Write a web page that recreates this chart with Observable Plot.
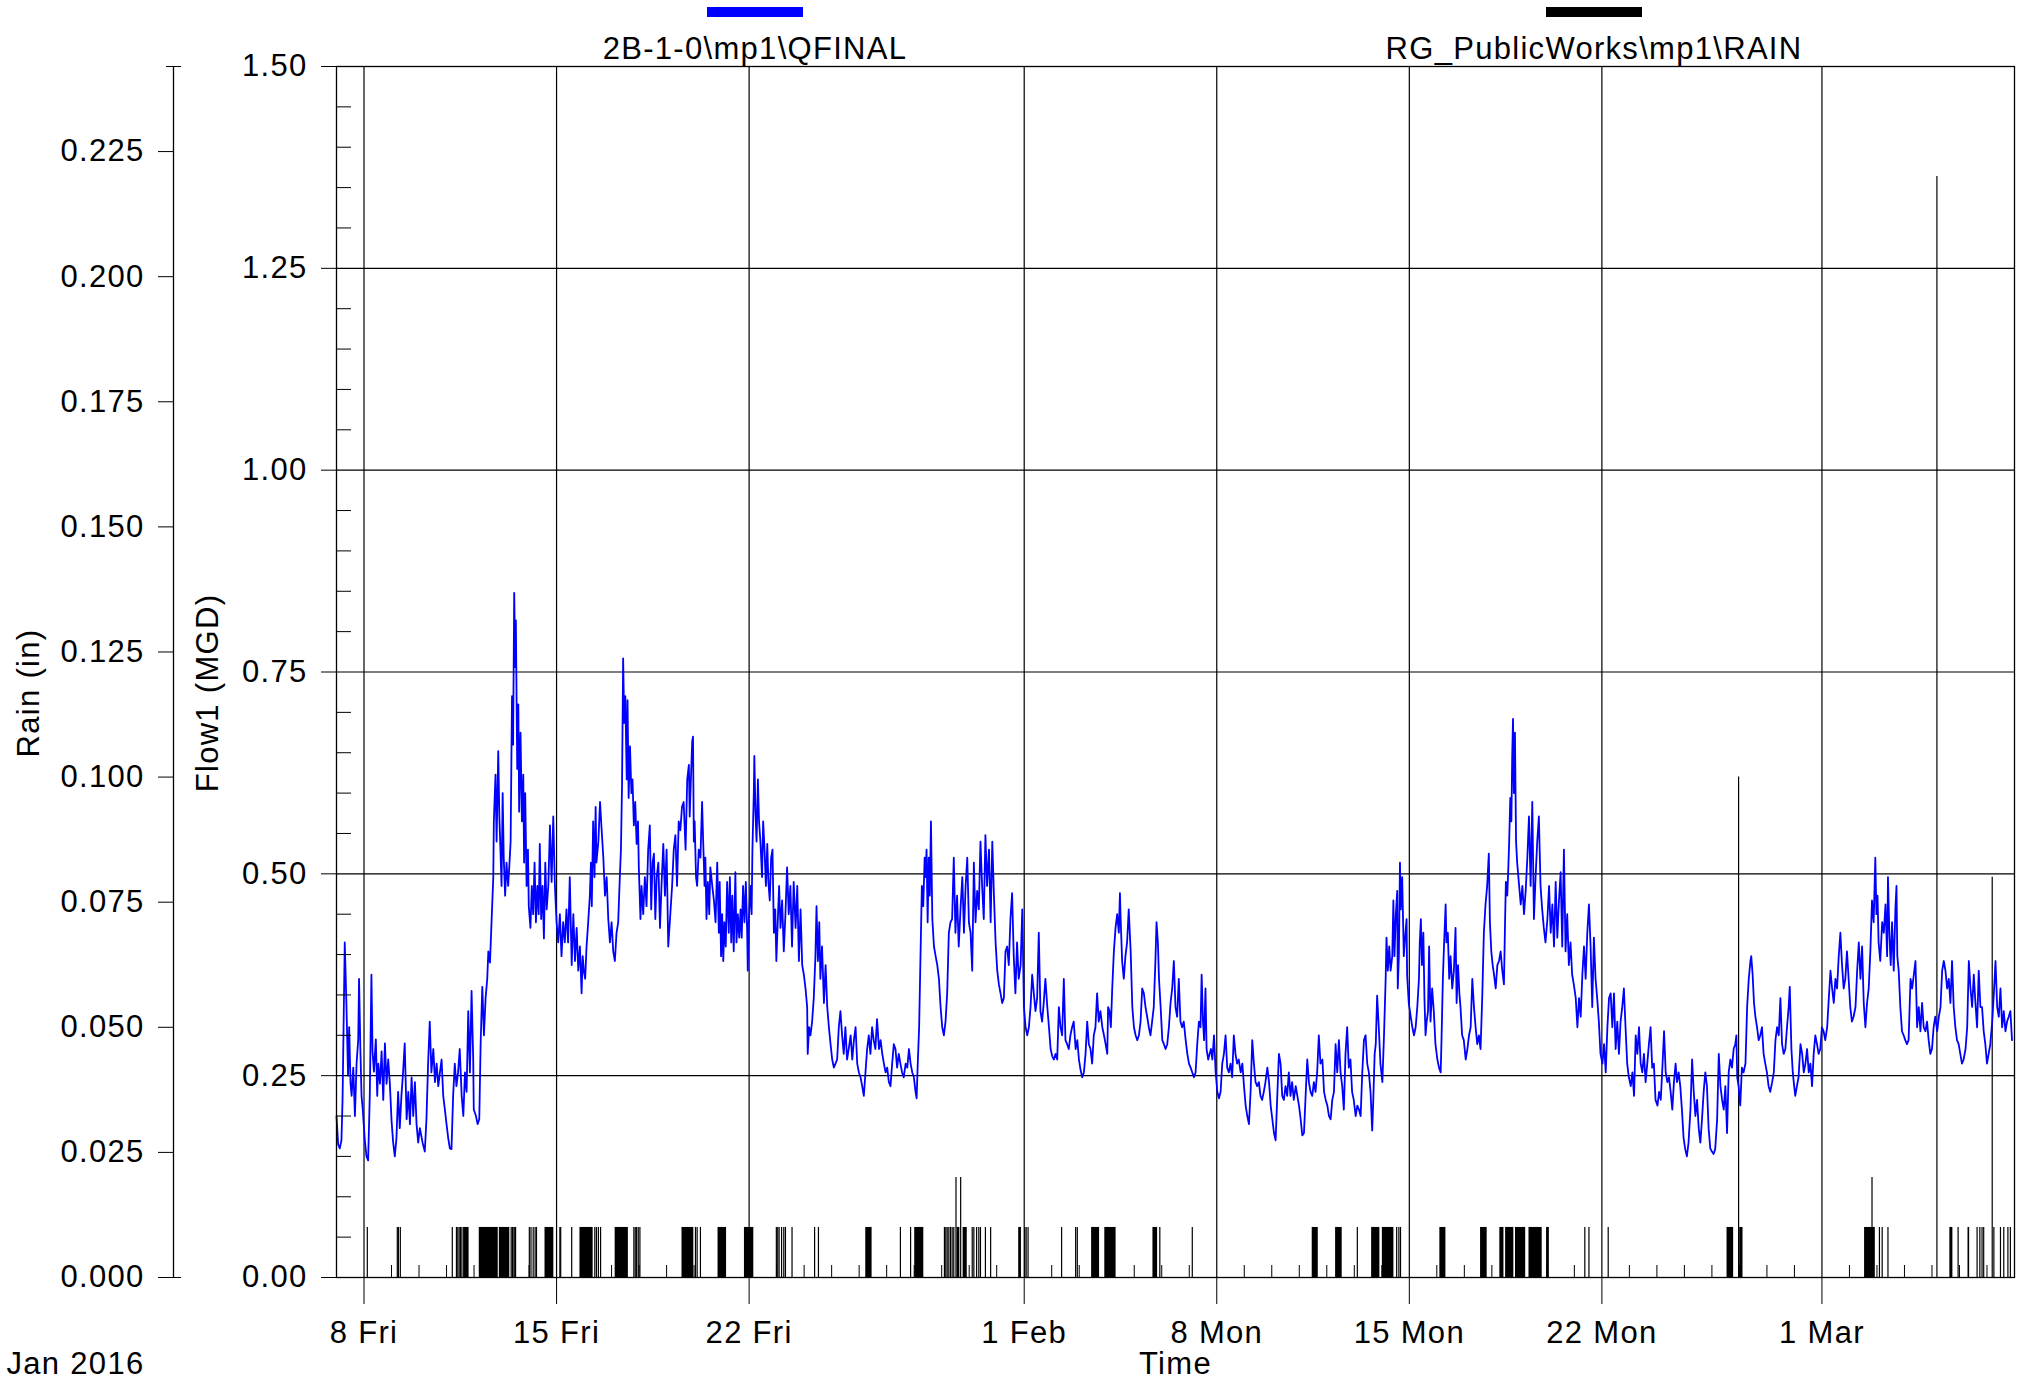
<!DOCTYPE html>
<html><head><meta charset="utf-8">
<script src="https://cdn.jsdelivr.net/npm/d3@7"></script>
<script src="https://cdn.jsdelivr.net/npm/@observablehq/plot@0.6"></script>
<style>
body{margin:0;background:#fff;}
#wrap{position:relative;width:2028px;height:1383px;font-family:"Liberation Sans",Arial,sans-serif;}
.sw{position:absolute;height:10px;}
.lt{position:absolute;font-size:31px;line-height:31px;letter-spacing:1.3px;white-space:nowrap;transform:translateX(-50%);color:#000;}
</style></head><body><div id="wrap"></div>
<script>
// ---- data (time = days after 2016-01-07 00:00) ----
const seriesNames = ["2B-1-0\\mp1\\QFINAL", "RG_PublicWorks\\mp1\\RAIN"];
const seriesColors = ["#0000ff", "#000000"];
const flowJan07to19 = [[0.00,0.20],[0.06,0.165],[0.12,0.16],[0.18,0.17],[0.22,0.22],[0.30,0.415],[0.36,0.34],[0.42,0.25],[0.46,0.31],[0.51,0.24],[0.55,0.225],[0.61,0.26],[0.67,0.20],[0.73,0.265],[0.79,0.295],[0.82,0.37],[0.87,0.28],[0.91,0.225],[0.95,0.21],[1.03,0.17],[1.09,0.15],[1.15,0.145],[1.21,0.225],[1.27,0.375],[1.31,0.28],[1.36,0.255],[1.43,0.295],[1.48,0.225],[1.52,0.265],[1.58,0.24],[1.64,0.28],[1.70,0.22],[1.76,0.29],[1.82,0.24],[1.88,0.27],[1.94,0.24],[2.00,0.195],[2.06,0.167],[2.12,0.15],[2.18,0.173],[2.24,0.23],[2.30,0.185],[2.36,0.225],[2.42,0.254],[2.48,0.29],[2.55,0.196],[2.61,0.23],[2.67,0.19],[2.73,0.248],[2.79,0.20],[2.85,0.242],[2.91,0.19],[2.97,0.167],[3.03,0.185],[3.13,0.167],[3.21,0.156],[3.27,0.196],[3.33,0.265],[3.39,0.317],[3.45,0.254],[3.52,0.283],[3.58,0.242],[3.64,0.265],[3.70,0.237],[3.76,0.254],[3.82,0.27],[3.88,0.225],[3.94,0.208],[4.00,0.19],[4.06,0.173],[4.12,0.16],[4.18,0.159],[4.24,0.225],[4.30,0.265],[4.36,0.237],[4.42,0.254],[4.48,0.283],[4.55,0.225],[4.61,0.20],[4.67,0.254],[4.73,0.23],[4.79,0.33],[4.85,0.254],[4.91,0.355],[4.97,0.27],[4.99,0.208],[5.07,0.20],[5.13,0.19],[5.19,0.196],[5.24,0.29],[5.30,0.36],[5.36,0.30],[5.42,0.346],[5.48,0.37],[5.52,0.404],[5.58,0.39],[5.64,0.444],[5.70,0.496],[5.72,0.565],[5.78,0.623],[5.82,0.54],[5.88,0.652],[5.92,0.571],[5.96,0.53],[6.00,0.485],[6.04,0.60],[6.08,0.52],[6.13,0.473],[6.18,0.514],[6.24,0.485],[6.28,0.508],[6.33,0.54],[6.38,0.72],[6.42,0.66],[6.46,0.848],[6.50,0.756],[6.52,0.814],[6.57,0.63],[6.61,0.71],[6.64,0.577],[6.69,0.675],[6.74,0.565],[6.79,0.623],[6.82,0.514],[6.86,0.60],[6.91,0.485],[6.96,0.53],[6.99,0.46],[7.05,0.433],[7.10,0.485],[7.15,0.45],[7.20,0.514],[7.25,0.44],[7.30,0.485],[7.35,0.45],[7.39,0.537],[7.44,0.444],[7.49,0.485],[7.54,0.42],[7.59,0.514],[7.64,0.456],[7.70,0.485],[7.76,0.56],[7.82,0.49],[7.88,0.571],[7.94,0.485],[8.00,0.44],[8.06,0.415],[8.12,0.45],[8.18,0.398],[8.24,0.44],[8.30,0.415],[8.36,0.456],[8.42,0.415],[8.48,0.496],[8.55,0.387],[8.61,0.45],[8.67,0.392],[8.73,0.433],[8.79,0.38],[8.85,0.41],[8.91,0.352],[8.95,0.398],[8.99,0.38],[9.04,0.37],[9.09,0.41],[9.15,0.44],[9.21,0.473],[9.25,0.514],[9.28,0.46],[9.33,0.565],[9.38,0.496],[9.42,0.583],[9.45,0.514],[9.52,0.54],[9.58,0.589],[9.64,0.554],[9.70,0.52],[9.76,0.473],[9.82,0.496],[9.88,0.444],[9.94,0.415],[10.00,0.44],[10.06,0.404],[10.12,0.392],[10.18,0.427],[10.24,0.44],[10.30,0.496],[10.34,0.53],[10.38,0.61],[10.42,0.767],[10.46,0.687],[10.50,0.72],[10.55,0.617],[10.58,0.715],[10.62,0.594],[10.67,0.658],[10.72,0.60],[10.76,0.617],[10.81,0.56],[10.86,0.589],[10.91,0.537],[10.96,0.565],[10.99,0.508],[11.05,0.444],[11.09,0.485],[11.15,0.45],[11.21,0.496],[11.27,0.46],[11.33,0.53],[11.39,0.56],[11.44,0.456],[11.49,0.514],[11.54,0.525],[11.59,0.444],[11.64,0.496],[11.70,0.514],[11.76,0.433],[11.82,0.49],[11.88,0.537],[11.94,0.473],[12.00,0.53],[12.06,0.41]];
const flowJan19to31 = [[12.20,0.485],[12.26,0.53],[12.32,0.548],[12.38,0.485],[12.44,0.565],[12.50,0.554],[12.56,0.583],[12.62,0.589],[12.69,0.53],[12.75,0.617],[12.81,0.635],[12.84,0.571],[12.89,0.623],[12.93,0.664],[12.96,0.67],[12.99,0.54],[13.02,0.565],[13.07,0.496],[13.11,0.485],[13.17,0.53],[13.23,0.52],[13.29,0.589],[13.33,0.54],[13.38,0.485],[13.41,0.52],[13.45,0.444],[13.50,0.49],[13.55,0.45],[13.59,0.508],[13.66,0.485],[13.72,0.467],[13.78,0.44],[13.84,0.514],[13.90,0.427],[13.93,0.49],[13.98,0.398],[14.02,0.45],[14.06,0.392],[14.10,0.44],[14.15,0.41],[14.20,0.49],[14.26,0.427],[14.30,0.496],[14.35,0.415],[14.39,0.473],[14.44,0.404],[14.50,0.502],[14.54,0.415],[14.59,0.45],[14.64,0.421],[14.69,0.456],[14.73,0.421],[14.78,0.485],[14.83,0.44],[14.88,0.49],[14.93,0.427],[14.95,0.38],[14.99,0.444],[15.05,0.485],[15.09,0.45],[15.12,0.53],[15.17,0.60],[15.19,0.646],[15.23,0.577],[15.27,0.54],[15.32,0.617],[15.36,0.565],[15.41,0.54],[15.47,0.496],[15.51,0.565],[15.56,0.53],[15.61,0.485],[15.66,0.537],[15.70,0.49],[15.75,0.467],[15.80,0.52],[15.85,0.53],[15.90,0.427],[15.95,0.456],[15.99,0.392],[16.04,0.44],[16.09,0.485],[16.14,0.433],[16.20,0.467],[16.26,0.404],[16.32,0.45],[16.38,0.508],[16.44,0.45],[16.50,0.485],[16.56,0.41],[16.62,0.49],[16.69,0.433],[16.75,0.485],[16.81,0.392],[16.87,0.456],[16.93,0.387],[16.99,0.375],[17.05,0.358],[17.11,0.335],[17.13,0.277],[17.18,0.31],[17.23,0.30],[17.29,0.317],[17.35,0.346],[17.41,0.398],[17.45,0.46],[17.50,0.392],[17.55,0.44],[17.59,0.37],[17.65,0.41],[17.72,0.34],[17.78,0.387],[17.84,0.335],[17.90,0.31],[17.96,0.289],[18.02,0.27],[18.08,0.26],[18.14,0.265],[18.20,0.27],[18.26,0.31],[18.32,0.33],[18.38,0.30],[18.44,0.277],[18.50,0.31],[18.56,0.27],[18.62,0.283],[18.69,0.30],[18.75,0.27],[18.81,0.294],[18.87,0.31],[18.93,0.265],[18.99,0.254],[19.05,0.248],[19.11,0.237],[19.17,0.225],[19.23,0.254],[19.29,0.283],[19.35,0.30],[19.41,0.277],[19.47,0.31],[19.53,0.294],[19.59,0.283],[19.65,0.32],[19.72,0.283],[19.78,0.294],[19.84,0.277],[19.90,0.265],[19.96,0.254],[20.02,0.26],[20.08,0.242],[20.14,0.237],[20.20,0.265],[20.26,0.289],[20.32,0.283],[20.38,0.26],[20.44,0.277],[20.50,0.265],[20.56,0.254],[20.62,0.248],[20.69,0.265],[20.75,0.26],[20.81,0.283],[20.87,0.265],[20.93,0.254],[20.99,0.248],[21.05,0.23],[21.09,0.222],[21.13,0.265],[21.18,0.31],[21.23,0.398],[21.28,0.485],[21.33,0.46],[21.38,0.52],[21.41,0.496],[21.45,0.53],[21.49,0.44],[21.53,0.52],[21.57,0.473],[21.61,0.565],[21.66,0.444],[21.72,0.41],[21.78,0.398],[21.84,0.387],[21.90,0.37],[21.96,0.335],[22.02,0.31],[22.08,0.30],[22.14,0.317],[22.20,0.352],[22.26,0.427],[22.32,0.44],[22.38,0.444],[22.44,0.52],[22.50,0.427],[22.56,0.473],[22.62,0.41],[22.69,0.46],[22.75,0.496],[22.81,0.427],[22.87,0.485],[22.93,0.52],[22.99,0.44],[23.05,0.427],[23.11,0.38],[23.17,0.514],[23.23,0.44],[23.29,0.479],[23.35,0.456],[23.41,0.54],[23.47,0.485],[23.53,0.444],[23.59,0.548],[23.65,0.485],[23.72,0.53],[23.78,0.44],[23.84,0.54],[23.90,0.473],[23.96,0.415],[24.02,0.38],[24.08,0.363],[24.14,0.352],[24.20,0.34],[24.26,0.346],[24.32,0.404]];
const flowFeb01to12 = [[24.38,0.41],[24.44,0.387],[24.50,0.444],[24.56,0.476],[24.62,0.398],[24.68,0.352],[24.74,0.415],[24.80,0.37],[24.87,0.387],[24.93,0.456],[24.99,0.335],[25.05,0.31],[25.11,0.30],[25.17,0.31],[25.23,0.335],[25.29,0.375],[25.35,0.352],[25.41,0.33],[25.47,0.346],[25.53,0.427],[25.59,0.33],[25.65,0.317],[25.71,0.34],[25.77,0.37],[25.84,0.335],[25.90,0.31],[25.96,0.283],[26.02,0.274],[26.08,0.27],[26.14,0.277],[26.20,0.27],[26.26,0.335],[26.32,0.31],[26.38,0.30],[26.44,0.37],[26.50,0.294],[26.56,0.289],[26.62,0.283],[26.68,0.30],[26.74,0.31],[26.80,0.317],[26.87,0.283],[26.93,0.294],[26.99,0.27],[27.05,0.257],[27.11,0.248],[27.17,0.254],[27.23,0.277],[27.29,0.317],[27.35,0.289],[27.41,0.283],[27.47,0.265],[27.53,0.30],[27.59,0.31],[27.65,0.352],[27.71,0.317],[27.77,0.33],[27.84,0.31],[27.90,0.30],[27.96,0.289],[28.02,0.277],[28.05,0.335],[28.10,0.33],[28.15,0.31],[28.20,0.358],[28.26,0.404],[28.32,0.433],[28.38,0.45],[28.44,0.427],[28.48,0.476],[28.51,0.44],[28.56,0.392],[28.62,0.37],[28.68,0.398],[28.74,0.415],[28.80,0.456],[28.87,0.404],[28.93,0.335],[28.99,0.31],[29.05,0.30],[29.11,0.294],[29.17,0.30],[29.23,0.317],[29.29,0.358],[29.35,0.352],[29.41,0.335],[29.47,0.323],[29.53,0.31],[29.59,0.30],[29.65,0.317],[29.71,0.335],[29.77,0.392],[29.81,0.44],[29.86,0.415],[29.90,0.37],[29.96,0.335],[30.02,0.294],[30.08,0.289],[30.14,0.283],[30.20,0.289],[30.26,0.31],[30.32,0.34],[30.38,0.358],[30.44,0.392],[30.50,0.335],[30.56,0.323],[30.62,0.37],[30.68,0.317],[30.74,0.31],[30.80,0.317],[30.87,0.294],[30.93,0.277],[30.99,0.265],[31.05,0.26],[31.11,0.254],[31.17,0.248],[31.23,0.254],[31.29,0.289],[31.35,0.317],[31.41,0.31],[31.45,0.375],[31.50,0.317],[31.54,0.294],[31.59,0.358],[31.63,0.283],[31.69,0.27],[31.74,0.277],[31.79,0.283],[31.84,0.27],[31.90,0.30],[31.96,0.254],[32.02,0.23],[32.08,0.222],[32.14,0.23],[32.20,0.265],[32.26,0.277],[32.32,0.30],[32.38,0.26],[32.44,0.254],[32.50,0.265],[32.56,0.248],[32.62,0.30],[32.68,0.277],[32.74,0.265],[32.80,0.27],[32.87,0.254],[32.93,0.265],[32.99,0.237],[33.05,0.213],[33.11,0.20],[33.17,0.19],[33.23,0.23],[33.29,0.294],[33.35,0.265],[33.41,0.242],[33.47,0.237],[33.53,0.242],[33.59,0.225],[33.65,0.22],[33.71,0.23],[33.77,0.242],[33.84,0.26],[33.90,0.242],[33.96,0.213],[34.02,0.196],[34.08,0.179],[34.14,0.17],[34.20,0.225],[34.26,0.277],[34.32,0.265],[34.38,0.225],[34.44,0.22],[34.50,0.237],[34.56,0.225],[34.62,0.254],[34.68,0.225],[34.74,0.242],[34.80,0.22],[34.87,0.237],[34.93,0.225],[34.99,0.213],[35.05,0.196],[35.11,0.176],[35.17,0.179],[35.23,0.225],[35.29,0.27],[35.35,0.242],[35.41,0.23],[35.47,0.225],[35.53,0.242],[35.59,0.23],[35.65,0.254],[35.71,0.30],[35.77,0.265],[35.84,0.27],[35.90,0.23],[35.96,0.22],[36.02,0.213],[36.08,0.20],[36.14,0.196],[36.20,0.22],[36.26,0.23],[36.32,0.289],[36.38,0.254],[36.44,0.294],[36.50,0.254]];
const flowFeb12to24 = [[36.56,0.237],[36.62,0.208],[36.68,0.277],[36.74,0.31],[36.80,0.26],[36.86,0.27],[36.92,0.23],[36.98,0.22],[37.05,0.20],[37.11,0.213],[37.17,0.208],[37.23,0.20],[37.29,0.254],[37.35,0.294],[37.41,0.30],[37.47,0.265],[37.53,0.254],[37.59,0.23],[37.65,0.182],[37.69,0.22],[37.74,0.277],[37.78,0.289],[37.83,0.349],[37.89,0.31],[37.95,0.265],[38.02,0.242],[38.08,0.30],[38.14,0.37],[38.17,0.421],[38.22,0.38],[38.27,0.41],[38.32,0.38],[38.38,0.398],[38.42,0.467],[38.46,0.398],[38.51,0.45],[38.56,0.479],[38.58,0.358],[38.62,0.398],[38.66,0.514],[38.69,0.456],[38.74,0.496],[38.80,0.398],[38.86,0.427],[38.90,0.444],[38.92,0.375],[38.98,0.34],[39.05,0.323],[39.11,0.31],[39.17,0.30],[39.23,0.31],[39.29,0.335],[39.35,0.37],[39.38,0.415],[39.42,0.444],[39.46,0.387],[39.51,0.427],[39.55,0.346],[39.59,0.30],[39.63,0.317],[39.68,0.33],[39.72,0.41],[39.77,0.317],[39.83,0.358],[39.89,0.33],[39.95,0.289],[40.02,0.27],[40.08,0.26],[40.14,0.254],[40.17,0.294],[40.22,0.37],[40.26,0.41],[40.32,0.462],[40.35,0.415],[40.40,0.427],[40.45,0.37],[40.50,0.398],[40.56,0.358],[40.62,0.38],[40.68,0.433],[40.72,0.34],[40.77,0.387],[40.82,0.352],[40.86,0.335],[40.92,0.30],[40.98,0.294],[41.05,0.27],[41.11,0.283],[41.17,0.30],[41.23,0.31],[41.29,0.37],[41.35,0.335],[41.41,0.31],[41.47,0.289],[41.53,0.30],[41.59,0.283],[41.65,0.346],[41.71,0.427],[41.77,0.462],[41.83,0.485],[41.89,0.525],[41.93,0.44],[41.98,0.404],[42.03,0.387],[42.08,0.375],[42.14,0.358],[42.20,0.387],[42.26,0.392],[42.32,0.404],[42.38,0.38],[42.44,0.363],[42.48,0.44],[42.51,0.49],[42.56,0.473],[42.60,0.508],[42.63,0.54],[42.67,0.594],[42.71,0.565],[42.74,0.646],[42.77,0.692],[42.80,0.60],[42.84,0.675],[42.88,0.54],[42.92,0.514],[42.98,0.49],[43.05,0.462],[43.11,0.485],[43.17,0.45],[43.23,0.479],[43.29,0.52],[43.35,0.571],[43.41,0.485],[43.47,0.589],[43.53,0.444],[43.59,0.496],[43.65,0.54],[43.71,0.571],[43.77,0.485],[43.83,0.456],[43.89,0.433],[43.95,0.415],[44.02,0.444],[44.08,0.485],[44.14,0.427],[44.20,0.462],[44.26,0.41],[44.32,0.49],[44.38,0.421],[44.44,0.467],[44.50,0.502],[44.56,0.41],[44.62,0.53],[44.68,0.404],[44.74,0.45],[44.80,0.387],[44.86,0.415],[44.92,0.375],[44.98,0.363],[45.05,0.346],[45.11,0.31],[45.17,0.346],[45.23,0.323],[45.29,0.375],[45.35,0.41],[45.41,0.37],[45.47,0.427],[45.53,0.462],[45.59,0.41],[45.65,0.335],[45.71,0.421],[45.77,0.37],[45.83,0.346],[45.89,0.317],[45.95,0.277],[46.02,0.265],[46.08,0.289],[46.14,0.254],[46.20,0.31],[46.26,0.346],[46.32,0.352],[46.38,0.31],[46.44,0.352],[46.50,0.283],[46.56,0.317],[46.62,0.277],[46.68,0.317],[46.74,0.335],[46.80,0.358],[46.86,0.31],[46.92,0.265],[46.98,0.248],[47.05,0.237],[47.11,0.254],[47.17,0.225],[47.23,0.30],[47.29,0.277],[47.35,0.31],[47.41,0.265],[47.47,0.254],[47.53,0.277],[47.59,0.242],[47.65,0.265],[47.71,0.289],[47.77,0.31],[47.83,0.26],[47.89,0.265],[47.95,0.22],[48.02,0.213],[48.08,0.23],[48.14,0.22],[48.20,0.26],[48.26,0.305],[48.32,0.254],[48.38,0.242],[48.44,0.248],[48.50,0.23],[48.56,0.208],[48.62,0.242],[48.68,0.265]];
const flowFeb24toMar08 = [[48.73,0.242],[48.79,0.254],[48.85,0.237],[48.91,0.208],[48.97,0.173],[49.03,0.159],[49.09,0.15],[49.15,0.167],[49.22,0.208],[49.28,0.27],[49.34,0.23],[49.40,0.20],[49.46,0.22],[49.52,0.185],[49.58,0.167],[49.64,0.196],[49.70,0.23],[49.76,0.254],[49.82,0.237],[49.88,0.185],[49.94,0.16],[50.00,0.156],[50.06,0.153],[50.12,0.159],[50.19,0.196],[50.25,0.277],[50.31,0.237],[50.37,0.22],[50.43,0.208],[50.49,0.237],[50.55,0.179],[50.61,0.254],[50.67,0.27],[50.73,0.26],[50.79,0.283],[50.85,0.289],[50.89,0.30],[50.92,0.248],[50.97,0.237],[51.03,0.213],[51.09,0.26],[51.15,0.254],[51.22,0.265],[51.28,0.335],[51.34,0.37],[51.40,0.392],[51.43,0.398],[51.48,0.375],[51.53,0.34],[51.58,0.323],[51.64,0.31],[51.70,0.294],[51.76,0.30],[51.82,0.31],[51.88,0.277],[51.94,0.265],[52.00,0.254],[52.06,0.237],[52.12,0.23],[52.19,0.242],[52.25,0.254],[52.31,0.294],[52.37,0.31],[52.43,0.30],[52.49,0.346],[52.55,0.289],[52.61,0.277],[52.67,0.283],[52.73,0.31],[52.79,0.335],[52.83,0.36],[52.89,0.283],[52.94,0.254],[52.99,0.237],[53.03,0.225],[53.09,0.237],[53.15,0.248],[53.22,0.289],[53.28,0.277],[53.34,0.254],[53.40,0.265],[53.46,0.283],[53.52,0.254],[53.58,0.265],[53.64,0.237],[53.70,0.277],[53.76,0.30],[53.82,0.289],[53.88,0.277],[53.94,0.283],[54.00,0.31],[54.06,0.305],[54.12,0.294],[54.19,0.31],[54.25,0.346],[54.31,0.38],[54.37,0.358],[54.43,0.34],[54.49,0.37],[54.55,0.358],[54.61,0.398],[54.67,0.427],[54.73,0.387],[54.79,0.358],[54.85,0.37],[54.91,0.404],[54.97,0.37],[55.03,0.335],[55.09,0.317],[55.15,0.323],[55.22,0.335],[55.28,0.38],[55.34,0.415],[55.40,0.37],[55.46,0.41],[55.52,0.34],[55.58,0.31],[55.64,0.34],[55.70,0.358],[55.76,0.404],[55.82,0.467],[55.88,0.44],[55.94,0.52],[55.98,0.45],[56.02,0.473],[56.06,0.415],[56.12,0.392],[56.19,0.44],[56.25,0.427],[56.31,0.462],[56.37,0.398],[56.40,0.496],[56.45,0.427],[56.50,0.387],[56.55,0.44],[56.61,0.38],[56.67,0.456],[56.71,0.485],[56.74,0.398],[56.79,0.38],[56.85,0.335],[56.91,0.305],[56.97,0.30],[57.03,0.294],[57.09,0.289],[57.15,0.294],[57.22,0.37],[57.28,0.358],[57.34,0.375],[57.40,0.392],[57.46,0.31],[57.52,0.335],[57.58,0.305],[57.64,0.34],[57.70,0.31],[57.76,0.305],[57.82,0.317],[57.88,0.294],[57.94,0.277],[58.00,0.283],[58.06,0.31],[58.12,0.323],[58.19,0.305],[58.25,0.323],[58.31,0.335],[58.37,0.38],[58.43,0.392],[58.49,0.38],[58.55,0.358],[58.61,0.37],[58.67,0.34],[58.73,0.392],[58.79,0.335],[58.85,0.31],[58.91,0.294],[58.97,0.289],[59.03,0.277],[59.09,0.265],[59.15,0.27],[59.22,0.283],[59.28,0.31],[59.34,0.392],[59.40,0.358],[59.46,0.335],[59.52,0.375],[59.58,0.34],[59.64,0.31],[59.70,0.38],[59.76,0.335],[59.82,0.335],[59.88,0.305],[59.94,0.289],[60.00,0.265],[60.06,0.277],[60.12,0.289],[60.19,0.317],[60.25,0.352],[60.31,0.392],[60.37,0.335],[60.43,0.323],[60.49,0.358],[60.55,0.31],[60.61,0.33],[60.67,0.305],[60.73,0.317],[60.79,0.323],[60.85,0.33],[60.91,0.294]];
// rain: continuous 0.01 in runs [start, end, inches] and single tips [time, inches]
const rainRuns = [[4.62,4.82,0.01],[5.19,5.88,0.01],[5.92,6.30,0.01],[6.48,6.55,0.01],[7.58,7.90,0.01],[8.85,9.33,0.01],[10.13,10.61,0.01],[12.56,12.99,0.01],[13.87,14.18,0.01],[14.83,15.17,0.01],[19.24,19.47,0.01],[21.02,21.35,0.01],[22.56,22.66,0.01],[22.78,22.93,0.01],[24.80,24.90,0.01],[27.45,27.74,0.01],[27.93,28.34,0.01],[29.68,29.85,0.01],[35.47,35.69,0.01],[36.32,36.56,0.01],[37.63,37.93,0.01],[38.02,38.44,0.01],[40.11,40.33,0.01],[41.59,41.83,0.01],[42.29,42.44,0.01],[42.50,42.80,0.01],[42.86,43.23,0.01],[43.35,43.83,0.01],[43.99,44.09,0.01],[50.55,50.79,0.01],[51.01,51.13,0.01],[55.55,55.94,0.01],[58.65,58.76,0.01],[59.31,59.37,0.01]];
const rainTips = [[1.12,0.01],[2.21,0.01],[2.25,0.01],[2.32,0.01],[4.21,0.01],[4.36,0.01],[4.41,0.01],[4.46,0.01],[4.51,0.01],[4.56,0.01],[6.35,0.01],[6.40,0.01],[6.45,0.01],[7.01,0.01],[7.07,0.01],[7.15,0.01],[7.22,0.01],[7.27,0.01],[8.12,0.01],[8.15,0.01],[8.55,0.01],[9.39,0.01],[9.45,0.01],[9.52,0.01],[9.60,0.01],[10.81,0.01],[10.86,0.01],[10.91,0.01],[10.97,0.01],[11.03,0.01],[13.05,0.01],[13.11,0.01],[13.23,0.01],[15.99,0.01],[16.04,0.01],[16.09,0.01],[16.18,0.01],[16.26,0.01],[16.32,0.01],[16.56,0.01],[17.38,0.01],[17.52,0.01],[20.50,0.01],[20.87,0.01],[22.10,0.01],[22.15,0.01],[22.20,0.01],[22.26,0.01],[22.32,0.01],[22.38,0.01],[22.44,0.01],[22.52,0.02],[22.69,0.02],[23.11,0.01],[23.17,0.01],[23.27,0.01],[23.35,0.01],[23.41,0.01],[23.59,0.01],[23.78,0.01],[25.02,0.01],[25.07,0.01],[25.14,0.01],[26.36,0.01],[26.87,0.01],[26.93,0.01],[29.93,0.01],[31.11,0.01],[37.11,0.01],[38.54,0.01],[38.62,0.01],[38.68,0.01],[45.38,0.01],[45.53,0.01],[46.23,0.01],[50.97,0.10],[55.82,0.02],[56.09,0.01],[56.19,0.01],[56.40,0.01],[58.18,0.22],[58.95,0.01],[59.64,0.01],[59.74,0.01],[59.82,0.01],[59.88,0.01],[60.19,0.08],[60.25,0.01],[60.49,0.01],[60.61,0.01],[60.76,0.01],[60.85,0.01]];
// axes
const flowTicks = [0, 0.25, 0.5, 0.75, 1.0, 1.25, 1.5];
const flowMinorStep = 0.05;
const rainTicks = [0, 0.025, 0.05, 0.075, 0.1, 0.125, 0.15, 0.175, 0.2, 0.225];
const rainAxisMax = 0.242;
const xTickDates = [[2016,0,8],[2016,0,15],[2016,0,22],[2016,1,1],[2016,1,8],[2016,1,15],[2016,1,22],[2016,2,1]];
const xTickLabels = ["8 Fri","15 Fri","22 Fri","1 Feb","8 Mon","15 Mon","22 Mon","1 Mar"];
const xDomain = [[2016,0,7],[2016,2,8]];

// ---- build ----
const t0 = Date.UTC(2016,0,7);
const day = t => new Date(t0 + t*864e5);
const ud = a => new Date(Date.UTC(a[0],a[1],a[2]));
const flowMax = 1.5;
const ratio = flowMax / rainAxisMax; // rain inches -> flow axis units
const flow = [...flowJan07to19, ...flowJan19to31, ...flowFeb01to12, ...flowFeb12to24, ...flowFeb24toMar08];
const W = 2028, H = 1383, mL = 336, mR = 14, mT = 66, mB = 106;
const pW = W - mL - mR, pH = H - mT - mB;
const xt = xTickDates.map(ud);
const labelOf = new Map(xt.map((d,i) => [d.getTime(), xTickLabels[i]]));
const dailyTicks = d3.utcDay.range(ud(xDomain[0]), ud(xDomain[1])).filter(d => !labelOf.has(d.getTime()));
const minorFlow = d3.range(flowMinorStep, flowMax, flowMinorStep).filter(v => Math.abs(v/0.25 - Math.round(v/0.25)) > 1e-6);
const rainOffset = -163;

const chart = Plot.plot({
  width: W, height: H, marginLeft: mL, marginRight: mR, marginTop: mT, marginBottom: mB,
  style: {fontFamily: "'Liberation Sans', Arial, sans-serif", fontSize: "31px", letterSpacing: "1.3px", color: "black", background: "white", overflow: "visible"},
  x: {type: "utc", domain: xDomain.map(ud)},
  y: {domain: [0, flowMax]},
  marks: [
    Plot.gridY(flowTicks.slice(1, -1), {stroke: "black", strokeOpacity: 1, strokeWidth: 1.2}),
    Plot.gridX(xt, {stroke: "black", strokeOpacity: 1, strokeWidth: 1.2}),
    Plot.rect(rainRuns, {x1: d => day(d[0]), x2: d => day(d[1]), y1: 0, y2: d => d[2]*ratio, fill: "black"}),
    Plot.ruleX(rainTips, {x: d => day(d[0]), y1: 0, y2: d => d[1]*ratio, stroke: "black", strokeWidth: 1.2}),
    Plot.line(flow, {x: d => day(d[0]), y: d => d[1], stroke: seriesColors[0], strokeWidth: 1.8}),
    Plot.tickY(minorFlow, {y: d => d, insetRight: pW - 15, stroke: "black"}),
    Plot.tickX(dailyTicks, {x: d => d, insetTop: pH - 12, stroke: "black"}),
    Plot.frame({stroke: "black", strokeWidth: 1.3}),
    Plot.axisY(flowTicks, {anchor: "left", tickSize: 15, tickPadding: 14, tickFormat: d => d.toFixed(2), label: null}),
    Plot.axisY(rainTicks.map(v => v*ratio), {anchor: "left", dx: rainOffset, tickSize: 15, tickPadding: 14, tickFormat: d => (d/ratio).toFixed(3), label: null}),
    Plot.ruleX([ud(xDomain[0])], {x: d => d, y1: 0, y2: flowMax, dx: rainOffset, stroke: "black", strokeWidth: 1.3}),
    Plot.tickY([0, flowMax], {y: d => d, insetRight: pW - 15, dx: rainOffset - 7, stroke: "black"}),
    Plot.axisX(xt, {anchor: "bottom", tickSize: 27, tickPadding: 16, tickFormat: d => labelOf.get(d.getTime()), label: null}),
    Plot.text(["Rain (in)"], {text: d => d, frameAnchor: "left", textAnchor: "middle", lineAnchor: "middle", rotate: -90, dx: 29 - mL, dy: 21, fill: "black"}),
    Plot.text(["Flow1 (MGD)"], {text: d => d, frameAnchor: "left", textAnchor: "middle", lineAnchor: "middle", rotate: -90, dx: 208 - mL, dy: 21, fill: "black"}),
    Plot.text(["Time"], {text: d => d, frameAnchor: "bottom", textAnchor: "middle", lineAnchor: "middle", dy: 87, fill: "black"}),
    Plot.text(["Jan 2016"], {text: d => d, frameAnchor: "bottom-left", textAnchor: "start", lineAnchor: "middle", dx: 6 - mL, dy: 87, fill: "black"})
  ]
});
const wrap = document.getElementById("wrap");
wrap.appendChild(chart);
// legend (above the plot frame)
const legendCenters = [755, 1594];
seriesNames.forEach((name, i) => {
  const sw = document.createElement("div");
  sw.className = "sw";
  sw.style.left = (legendCenters[i] - 48) + "px";
  sw.style.top = "7px";
  sw.style.width = "96px";
  sw.style.background = seriesColors[i];
  wrap.appendChild(sw);
  const lt = document.createElement("div");
  lt.className = "lt";
  lt.style.left = legendCenters[i] + "px";
  lt.style.top = "33px";
  lt.textContent = name;
  wrap.appendChild(lt);
});
</script></body></html>
